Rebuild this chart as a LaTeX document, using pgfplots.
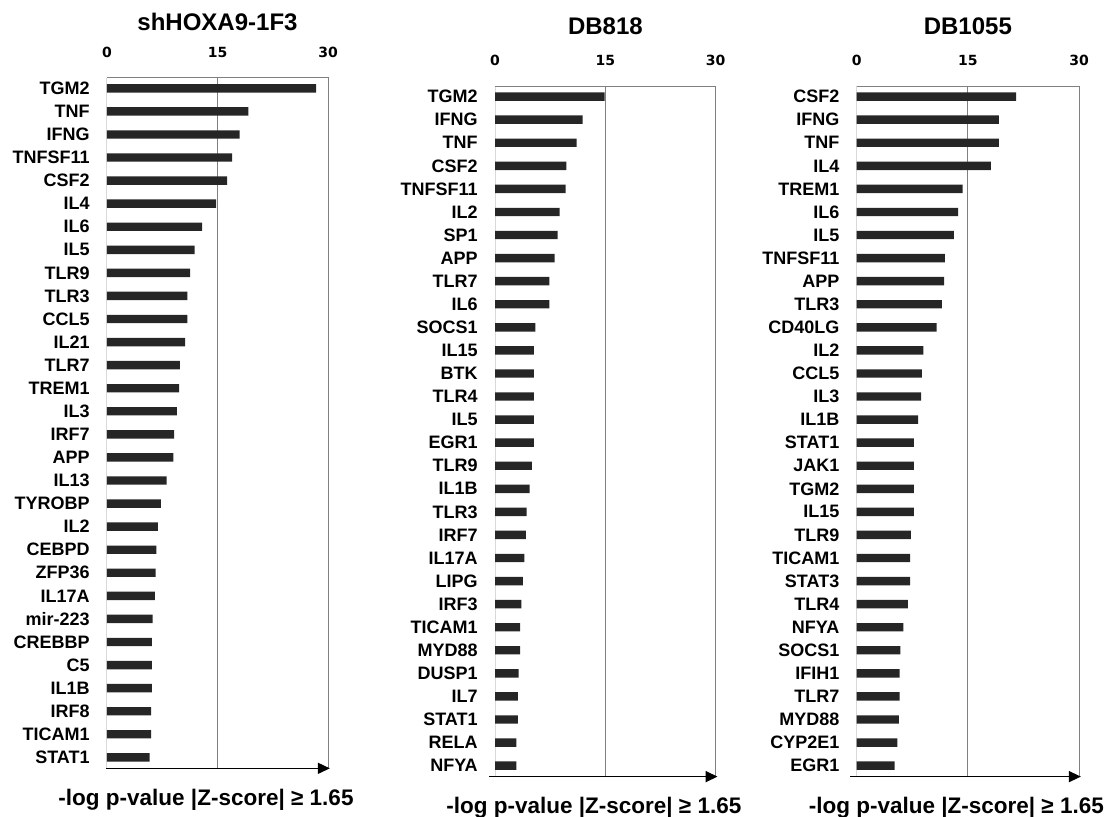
\documentclass[border=0pt]{standalone}
\usepackage{fontspec}
\setmainfont{Liberation Sans}
\newfontfamily\tickfont{DejaVu Sans}
\usepackage{pgfplots}
\usepackage{pgfplotstable}
\pgfplotsset{compat=1.18}
\usetikzlibrary{arrows.meta}

\definecolor{barc}{RGB}{38,38,38}
\definecolor{framec}{RGB}{128,128,128}
\definecolor{zeroc}{RGB}{217,217,217}

% shHOXA9-1F3
\pgfplotstableread{
idx val name
1 28.4 TGM2
2 19.2 TNF
3 18.0 IFNG
4 17.0 TNFSF11
5 16.3 CSF2
6 14.8 IL4
7 12.9 IL6
8 11.9 IL5
9 11.3 TLR9
10 10.9 TLR3
11 10.9 CCL5
12 10.6 IL21
13 9.9 TLR7
14 9.8 TREM1
15 9.5 IL3
16 9.1 IRF7
17 9.0 APP
18 8.1 IL13
19 7.3 TYROBP
20 6.9 IL2
21 6.7 CEBPD
22 6.6 ZFP36
23 6.5 IL17A
24 6.2 mir-223
25 6.1 CREBBP
26 6.1 C5
27 6.1 IL1B
28 6.0 IRF8
29 6.0 TICAM1
30 5.8 STAT1
}\tblA

% DB818
\pgfplotstableread{
idx val name
1 14.9 TGM2
2 11.9 IFNG
3 11.1 TNF
4 9.7 CSF2
5 9.6 TNFSF11
6 8.8 IL2
7 8.5 SP1
8 8.1 APP
9 7.4 TLR7
10 7.4 IL6
11 5.5 SOCS1
12 5.3 IL15
13 5.3 BTK
14 5.3 TLR4
15 5.3 IL5
16 5.3 EGR1
17 5.0 TLR9
18 4.7 IL1B
19 4.3 TLR3
20 4.2 IRF7
21 4.0 IL17A
22 3.8 LIPG
23 3.6 IRF3
24 3.4 TICAM1
25 3.4 MYD88
26 3.2 DUSP1
27 3.1 IL7
28 3.1 STAT1
29 2.9 RELA
30 2.9 NFYA
}\tblB

% DB1055
\pgfplotstableread{
idx val name
1 21.5 CSF2
2 19.2 IFNG
3 19.2 TNF
4 18.1 IL4
5 14.3 TREM1
6 13.7 IL6
7 13.1 IL5
8 11.9 TNFSF11
9 11.8 APP
10 11.5 TLR3
11 10.8 CD40LG
12 9.0 IL2
13 8.8 CCL5
14 8.7 IL3
15 8.3 IL1B
16 7.7 STAT1
17 7.7 JAK1
18 7.7 TGM2
19 7.7 IL15
20 7.3 TLR9
21 7.2 TICAM1
22 7.2 STAT3
23 6.9 TLR4
24 6.3 NFYA
25 5.9 SOCS1
26 5.8 IFIH1
27 5.8 TLR7
28 5.7 MYD88
29 5.5 CYP2E1
30 5.1 EGR1
}\tblC

\newcommand{\ytop}{0.541}
\newcommand{\ybot}{30.476}

\pgfplotsset{
  genebars/.style={
    scale only axis, height=345.3pt,
    anchor=north west,
    xmin=0, xmax=30, ymin=\ytop, ymax=\ybot, y dir=reverse,
    axis line style={draw=none},
    xtick={0,15,30}, xticklabels={0,15,30}, xticklabel pos=upper,
    major tick length=0pt,
    ytick={1,...,30},
    /pgf/number format/assume math mode=true,
    xticklabel style={font=\tickfont\bfseries\fontsize{7}{8}\selectfont,
      anchor=base, inner sep=0pt, yshift=10.2pt},
    yticklabel style={font=\bfseries\fontsize{9}{10}\selectfont,
      anchor=east, inner sep=0pt, xshift=-8.5pt},
    clip=false,
    xbar, bar width=4.2pt, bar shift=0pt,
  },
  framelines/.code={},
}

\newcommand{\panelframe}{%
  \draw[zeroc, line width=0.5pt] (axis cs:0,\ytop) -- (axis cs:0,\ybot);
  \draw[framec, line width=0.5pt] (axis cs:0,\ytop) -- (axis cs:30,\ytop) -- (axis cs:30,\ybot);
  \draw[framec, line width=0.5pt] (axis cs:15,\ytop) -- (axis cs:15,\ybot);
}
\newcommand{\panelarrow}[1]{%
  \draw[black, line width=0.8pt, -{Triangle[length=6pt,width=5.5pt]}]
    (axis cs:#1,\ybot) -- (axis cs:30.25,\ybot);
  \node[anchor=north, inner sep=0pt, font=\bfseries\fontsize{11.25}{13}\selectfont]
    at (axis cs:15,\ybot) [xshift=-5.75pt, yshift=-10pt] {-log p-value |Z-score| ≥ 1.65};
}

\begin{document}
\begin{tikzpicture}
\path[use as bounding box] (0,0) rectangle (554pt,-408pt);

\begin{axis}[genebars, at={(53.5pt,-38.85pt)}, width=110.5pt,
  yticklabels from table={\tblA}{name}]
  \panelframe
  \addplot[fill=barc, draw=none] table[x=val, y=idx] {\tblA};
  \panelarrow{-0.15}
  \node[anchor=base, inner sep=0pt, font=\bfseries\fontsize{12}{14}\selectfont]
    at (axis cs:15,\ytop) [yshift=23.4pt] {shHOXA9-1F3};
\end{axis}

\begin{axis}[genebars, at={(247.5pt,-43pt)}, width=110.35pt,
  yticklabels from table={\tblB}{name}]
  \panelframe
  \addplot[fill=barc, draw=none] table[x=val, y=idx] {\tblB};
  \panelarrow{-0.8}
  \node[anchor=base, inner sep=0pt, font=\bfseries\fontsize{12}{14}\selectfont]
    at (axis cs:15,\ytop) [yshift=25.8pt] {DB818};
\end{axis}

\begin{axis}[genebars, at={(428.35pt,-43pt)}, width=111.15pt,
  yticklabels from table={\tblC}{name}]
  \panelframe
  \addplot[fill=barc, draw=none] table[x=val, y=idx] {\tblC};
  \panelarrow{-0.9}
  \node[anchor=base, inner sep=0pt, font=\bfseries\fontsize{12}{14}\selectfont]
    at (axis cs:15,\ytop) [yshift=25.8pt] {DB1055};
\end{axis}
\end{tikzpicture}
\end{document}
